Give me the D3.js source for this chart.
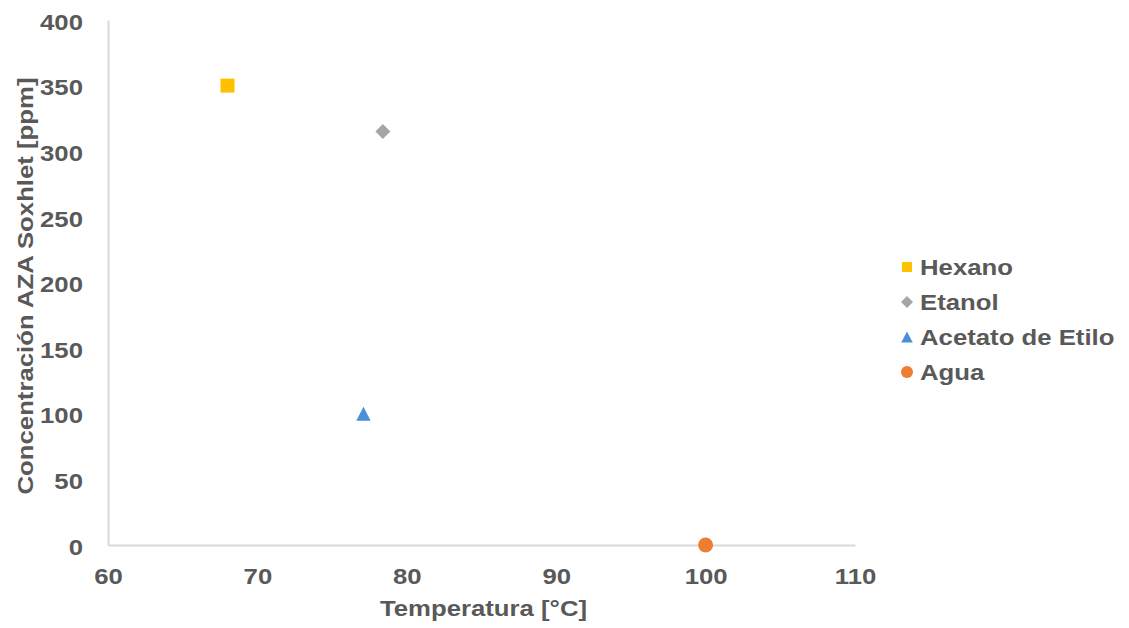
<!DOCTYPE html>
<html>
<head>
<meta charset="utf-8">
<script src="https://cdn.jsdelivr.net/npm/d3@7"></script>
<style>
  html, body { margin: 0; padding: 0; background: #fff; }
  svg text { font-family: "Liberation Sans", Arial, sans-serif; font-weight: bold; fill: #595959; }
</style>
</head>
<body>
<svg id="chart" width="1129" height="628"></svg>
<script>
// Solvent data: boiling temperature [°C] vs. Soxhlet AZA concentration [ppm]
const solvents = ["Hexano", "Etanol", "Acetato de Etilo", "Agua"];
const temperatures = [68, 78.4, 77.1, 100];
const concentrations = [350, 315, 100, 0];
const colors = ["#FFC000", "#A5A5A5", "#4A90D9", "#ED7D31"];
const xTicks = [60, 70, 80, 90, 100, 110];
const yTicks = [0, 50, 100, 150, 200, 250, 300, 350, 400];

const FONT = 22;      // label size
const WIDE = 1.17;    // horizontal stretch of the label face

const svg = d3.select("#chart");
const plot = { left: 108, right: 855, top: 20, bottom: 545 };

const x = d3.scaleLinear().domain([60, 110]).range([plot.left, plot.right]);
const y = d3.scaleLinear().domain([0, 400]).range([plot.bottom, plot.top]);

// Marker shapes; the diamond is a square turned 45°, the triangle is bbox-centred
function markerPath(i, scale) {
  const p = d3.path();
  if (i === 0) {
    const h = 7 * scale;
    p.rect(-h, -h, 2 * h, 2 * h);
  } else if (i === 1) {
    const r = 7.5 * scale;
    p.moveTo(0, -r); p.lineTo(r, 0); p.lineTo(0, r); p.lineTo(-r, 0); p.closePath();
  } else if (i === 2) {
    const w = 7.2 * scale, h = 7 * scale;
    p.moveTo(0, -h); p.lineTo(w, h); p.lineTo(-w, h); p.closePath();
  } else {
    const r = 7.5 * scale;
    p.arc(0, 0, r, 0, 2 * Math.PI);
  }
  return p.toString();
}

// Axes
const xAxis = svg.append("g")
  .attr("transform", `translate(0,${plot.bottom})`)
  .call(d3.axisBottom(x).tickValues(xTicks).tickSize(0).tickPadding(23));
const yAxis = svg.append("g")
  .attr("transform", `translate(${plot.left},0)`)
  .call(d3.axisLeft(y).tickValues(yTicks).tickSize(0).tickPadding(25));

[xAxis, yAxis].forEach(g => {
  g.select(".domain").attr("stroke", "#D9D9D9").attr("stroke-width", 2);
  g.selectAll("text")
    .style("font-size", FONT + "px")
    .style("font-family", null)
    .attr("fill", "#595959");
});
xAxis.selectAll("text").attr("dy", "0.71em")
  .attr("transform", `scale(${WIDE},1)`);
yAxis.selectAll("text").attr("dy", "0.42em")
  .attr("x", -25 / WIDE)
  .attr("transform", `scale(${WIDE},1)`);
[xAxis, yAxis].forEach(g => g.attr("font-family", null).attr("font-size", null));

// Axis titles
svg.append("text")
  .attr("transform", `translate(${(plot.left + plot.right) / 2 + 2},616) scale(${WIDE},1)`)
  .attr("text-anchor", "middle")
  .style("font-size", FONT + "px")
  .text("Temperatura [°C]");

svg.append("text")
  .attr("transform", `translate(33,286) rotate(-90) scale(${WIDE},1)`)
  .attr("text-anchor", "middle")
  .style("font-size", FONT + "px")
  .text("Concentración AZA Soxhlet [ppm]");

// Markers
svg.append("g").selectAll("path")
  .data(solvents)
  .join("path")
  .attr("transform", (d, i) => `translate(${x(temperatures[i])},${y(concentrations[i])})`)
  .attr("d", (d, i) => markerPath(i, 1))
  .attr("fill", (d, i) => colors[i]);

// Legend
const legend = svg.append("g").attr("transform", "translate(907,267)");
const item = legend.selectAll("g")
  .data(solvents)
  .join("g")
  .attr("transform", (d, i) => `translate(0,${i * 35})`);
item.append("path")
  .attr("d", (d, i) => markerPath(i, i === 0 ? 0.72 : 0.8))
  .attr("fill", (d, i) => colors[i]);
item.append("text")
  .attr("transform", `scale(${WIDE},1)`)
  .attr("x", 13 / WIDE)
  .attr("dy", "0.36em")
  .style("font-size", FONT + "px")
  .text(d => d);
</script>
</body>
</html>
